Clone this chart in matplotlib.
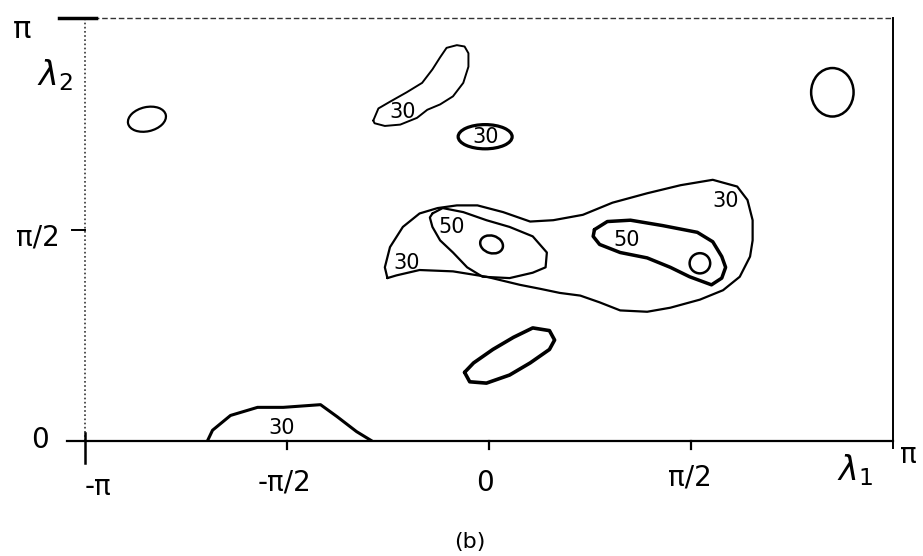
import numpy as np
import matplotlib.pyplot as plt
from matplotlib.patches import Ellipse

plt.rcParams['font.family'] = ['DejaVu Sans']
plt.rcParams['mathtext.fontset'] = 'dejavusans'

PI = np.pi

# small closed level curves drawn as ellipses (centre, size, tilt in degrees)
oval_l1 = [-2.66, -0.03, 2.67, 0.02, 1.64]
oval_l2 = [2.39, 2.26, 2.59, 1.46, 1.32]
oval_w = [0.30, 0.42, 0.33, 0.18, 0.16]
oval_h = [0.18, 0.18, 0.36, 0.13, 0.15]
oval_tilt = [12, 0, 0, -15, 0]

# level 30, upper middle
upper_l1 = [-0.90, -0.86, -0.77, -0.64, -0.52, -0.44, -0.38, -0.33, -0.25, -0.19,
            -0.16, -0.16, -0.20, -0.28, -0.38, -0.48, -0.56, -0.69, -0.81, -0.89, -0.90]
upper_l2 = [2.38, 2.47, 2.52, 2.59, 2.66, 2.76, 2.85, 2.92, 2.94, 2.93,
            2.88, 2.78, 2.66, 2.56, 2.50, 2.46, 2.40, 2.35, 2.34, 2.36, 2.38]

# level 30, large central region
outer_l1 = [-0.79, -0.81, -0.77, -0.67, -0.54, -0.40, -0.25, -0.09, 0.11, 0.32,
            0.50, 0.73, 0.96, 1.23, 1.49, 1.74, 1.93, 2.01, 2.05, 2.05,
            2.03, 1.95, 1.82, 1.64, 1.41, 1.23, 1.02, 0.86, 0.71, 0.55,
            0.40, 0.24, -0.02, -0.28, -0.54, -0.72, -0.79]
outer_l2 = [1.21, 1.29, 1.44, 1.59, 1.69, 1.73, 1.75, 1.75, 1.70, 1.63,
            1.64, 1.68, 1.77, 1.84, 1.90, 1.94, 1.89, 1.79, 1.64, 1.49,
            1.37, 1.22, 1.12, 1.05, 0.99, 0.96, 0.97, 1.03, 1.08, 1.10,
            1.13, 1.16, 1.22, 1.26, 1.27, 1.23, 1.21]

# level 50, left peak
peak_a_l1 = [-0.44, -0.36, -0.20, -0.02, 0.16, 0.34, 0.45, 0.44, 0.34, 0.16,
             -0.05, -0.17, -0.28, -0.38, -0.44, -0.46, -0.44]
peak_a_l2 = [1.69, 1.73, 1.70, 1.64, 1.59, 1.52, 1.40, 1.29, 1.25, 1.21,
             1.22, 1.29, 1.40, 1.49, 1.59, 1.66, 1.69]

# level 50, right peak
peak_b_l1 = [0.82, 0.92, 1.10, 1.35, 1.62, 1.74, 1.81, 1.84, 1.81, 1.73,
             1.56, 1.41, 1.23, 1.02, 0.86, 0.81, 0.82]
peak_b_l2 = [1.57, 1.63, 1.64, 1.60, 1.55, 1.48, 1.37, 1.29, 1.21, 1.16,
             1.22, 1.29, 1.36, 1.40, 1.46, 1.52, 1.57]

# unlabelled region below the centre
lower_l1 = [-0.19, -0.12, 0.03, 0.19, 0.34, 0.47, 0.51, 0.47, 0.32, 0.16,
            -0.02, -0.15, -0.19]
lower_l2 = [0.51, 0.58, 0.68, 0.77, 0.84, 0.82, 0.75, 0.68, 0.58, 0.49,
            0.43, 0.44, 0.51]

# level 30 touching lambda2 = 0
edge_l1 = [-2.19, -2.15, -2.01, -1.80, -1.60, -1.31, -1.18, -1.03, -0.91]
edge_l2 = [0.0, 0.08, 0.19, 0.25, 0.25, 0.27, 0.18, 0.07, 0.0]

# contour level labels
level_text = ['30', '30', '30', '50', '30', '50', '30']
level_l1 = [-0.67, -0.03, -0.64, -0.29, 1.84, 1.07, -1.61]
level_l2 = [2.44, 2.26, 1.32, 1.59, 1.78, 1.49, 0.10]

oval_lw = [1.6, 2.3, 1.8, 1.8, 1.8]

fig = plt.figure(figsize=(9.23, 5.56), dpi=100)
ax = fig.add_axes([0.0921, 0.2068, 0.8754, 0.7608])
ax.set_xlim(-PI, PI)
ax.set_ylim(0, PI)
ax.axis('off')

for x, y, w, h, a, lw in zip(oval_l1, oval_l2, oval_w, oval_h, oval_tilt, oval_lw):
    ax.add_patch(Ellipse((x, y), w, h, angle=a, fill=False, ec='black', lw=lw))

line = dict(color='black', solid_joinstyle='round', solid_capstyle='round')
ax.plot(upper_l1, upper_l2, lw=1.4, **line)
ax.plot(outer_l1, outer_l2, lw=1.6, **line)
ax.plot(peak_a_l1, peak_a_l2, lw=1.6, **line)
ax.plot(peak_b_l1, peak_b_l2, lw=2.5, **line)
ax.plot(lower_l1, lower_l2, lw=2.6, **line)
ax.plot(edge_l1, edge_l2, lw=2.2, **line)

for t, x, y in zip(level_text, level_l1, level_l2):
    ax.text(x, y, t, fontsize=15, ha='center', va='center')

# frame: dotted left, dashed top, solid bottom and right
k = dict(color='black', clip_on=False)
ax.plot([-PI, -PI], [0, PI], color='#333333', lw=1.2, ls=(0, (1, 1.5)), clip_on=False)
ax.plot([-PI, PI], [PI, PI], color='#333333', lw=1.0, ls=(0, (4, 2)), clip_on=False)
ax.plot([-3.34, -3.06], [PI, PI], lw=2.5, **k)
ax.plot([-3.24, -PI], [PI / 2, PI / 2], lw=1.4, **k)
ax.plot([-3.28, PI], [0, 0], lw=1.6, **k)
ax.plot([PI, PI], [-0.05, PI], lw=1.4, **k)
ax.plot([-PI, -PI], [0.06, -0.16], lw=1.8, **k)
for xt in [-PI / 2, 0, PI / 2]:
    ax.plot([xt, xt], [0, -0.06], lw=1.6, **k)

# axis labels
tk = dict(transform=ax.transAxes, ha='center', va='center', fontsize=20)
ax.text(-0.078, 0.972, 'π', fontsize=22, transform=ax.transAxes, ha='center', va='center')
ax.text(-0.037, 0.865, r'$\lambda_2$', transform=ax.transAxes, ha='center',
        va='center', fontsize=24)
ax.text(-0.058, 0.482, 'π/2', **tk)
ax.text(-0.056, 0.002, '0', **tk)
ax.text(0.016, -0.109, '-π', **tk)
ax.text(0.2475, -0.099, '-π/2', **tk)
ax.text(0.495, -0.099, '0', **tk)
ax.text(0.749, -0.087, 'π/2', **tk)
ax.text(0.953, -0.069, r'$\lambda_1$', transform=ax.transAxes, ha='center',
        va='center', fontsize=24)
ax.text(1.019, -0.033, 'π', **tk)
ax.text(0.476, -0.239, '(b)', transform=ax.transAxes, ha='center', va='center',
        fontsize=16)

fig.savefig('out.png', dpi=100)
plt.close(fig)
